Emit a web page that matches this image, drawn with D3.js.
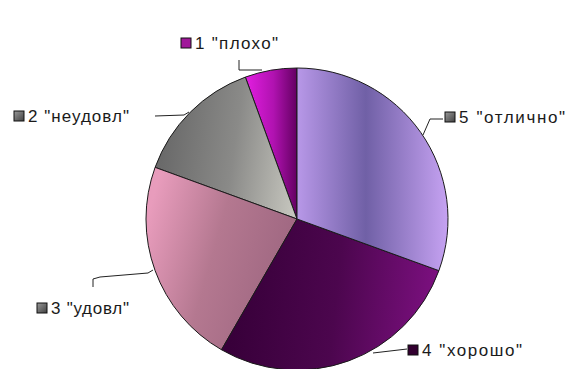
<!DOCTYPE html>
<html><head><meta charset="utf-8">
<script src="https://cdn.jsdelivr.net/npm/d3@7"></script>
<style>body{margin:0;background:#fff}svg{display:block}</style>
</head><body>
<script>
const categories = ['1 "плохо"', '2 "неудовл"', '3 "удовл"', '4 "хорошо"', '5 "отлично"'];
const values = [2, 5, 8, 10, 11];
const W = 580, H = 369, cx = 297, cy = 219, R = 151;

const svg = d3.select("body").append("svg").attr("width", W).attr("height", H);
const defs = svg.append("defs");

// gradients per slice (coordinates relative to pie centre)
const grads = [
  {id:"g0", x1:-52,y1:0,x2:0,y2:0, stops:[[0,"#e41ee2"],[0.55,"#b012b0"],[1,"#640062"]]},
  {id:"g1", x1:-140,y1:-30,x2:0,y2:-10, stops:[[0,"#6a6a6a"],[0.5,"#8a8a88"],[1,"#c8c8c0"]]},
  {id:"g2", x1:-150,y1:0,x2:-10,y2:40, stops:[[0,"#e89cbc"],[0.5,"#b47890"],[1,"#a06882"]]},
  {id:"g3", x1:-60,y1:60,x2:140,y2:80, stops:[[0,"#38003a"],[0.5,"#4c064e"],[1,"#7c1080"]]},
  {id:"g4", x1:0,y1:0,x2:153,y2:0, stops:[[0,"#b898e8"],[0.45,"#7060a6"],[1,"#c8a4f4"]]}
];
grads.forEach(g => {
  const lg = defs.append("linearGradient").attr("id", g.id).attr("gradientUnits","userSpaceOnUse")
    .attr("x1",g.x1).attr("y1",g.y1).attr("x2",g.x2).attr("y2",g.y2);
  g.stops.forEach(s => lg.append("stop").attr("offset", s[0]).attr("stop-color", s[1]));
});
const sq = defs.append("linearGradient").attr("id","sq").attr("x1",0).attr("y1",0).attr("x2",1).attr("y2",1);
sq.append("stop").attr("offset",0).attr("stop-color","#9a9a9a");
sq.append("stop").attr("offset",1).attr("stop-color","#404040");

const pie = d3.pie().sort(null).value(d => d).startAngle(2*Math.PI).endAngle(0);
const arcs = pie(values);
const arc = d3.arc().innerRadius(0).outerRadius(R);

const g = svg.append("g").attr("transform", `translate(${cx},${cy})`);
g.selectAll("path").data(arcs).join("path")
  .attr("d", arc)
  .attr("fill", (d,i) => `url(#g${i})`)
  .attr("stroke", "#1a1a1a").attr("stroke-width", 1);

// labels
const labels = [
  {sq:"#a0189a", x:181, y:43, len:97, leader:[[239,60],[239,70],[262,70]]},
  {sq:"url(#sq)", x:14, y:116, len:115, leader:[[155,116],[184,115],[189,112]]},
  {sq:"url(#sq)", x:37, y:308, len:92, leader:[[93,287],[93,279],[100,277],[148,273],[153,270]]},
  {sq:"#320030", x:408, y:350, len:114, leader:[[407,349],[373,353]]},
  {sq:"url(#sq)", x:445, y:117, len:120, leader:[[443,119],[430,119],[423,135]]}
];
const line = d3.line();
labels.forEach((l,i) => {
  svg.append("path").attr("d", line(l.leader)).attr("fill","none").attr("stroke","#222").attr("stroke-width",1);
  svg.append("rect").attr("x", l.x).attr("y", l.y-5).attr("width", 10).attr("height", 10)
    .attr("fill", l.sq).attr("stroke","#111").attr("stroke-width",1);
  svg.append("text").attr("x", l.x+14).attr("y", l.y+6)
    .attr("font-family","Liberation Sans, Arial, sans-serif").attr("font-size",17)
    .attr("fill","#1a1a1a")
    .attr("textLength", l.len - 14).attr("lengthAdjust","spacing")
    .text(categories[i]);
});
</script>
</body></html>
